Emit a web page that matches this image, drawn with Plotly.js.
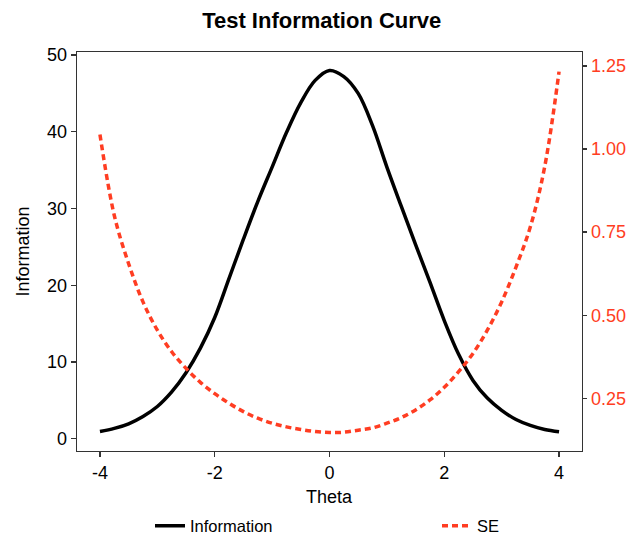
<!DOCTYPE html>
<html>
<head>
<meta charset="utf-8">
<script src="https://cdn.plot.ly/plotly-3.0.1.min.js"></script>
<style>html,body{margin:0;padding:0;background:#fff;}#chart{width:634px;height:538px;}</style>
</head>
<body>
<div id="chart"></div>
<script>
var theta = [-4, -3.75, -3.5, -3.25, -3, -2.75, -2.5, -2.25, -2, -1.75, -1.5, -1.25, -1, -0.75, -0.5, -0.25, 0,
             0.25, 0.5, 0.75, 1, 1.25, 1.5, 1.75, 2, 2.25, 2.5, 2.75, 3, 3.25, 3.5, 3.75, 4];
var information = [0.95, 1.35, 1.95, 2.9, 4.2, 6.1, 8.6, 11.8, 15.8, 20.9, 26.0, 30.9, 35.4, 39.9, 43.8, 46.7, 48.0,
                   47.2, 45.0, 40.8, 35.4, 30.3, 25.3, 20.4, 15.4, 11.0, 7.6, 5.3, 3.7, 2.5, 1.73, 1.2, 0.9];
var se = [1.044, 0.80, 0.655, 0.54, 0.455, 0.39, 0.34, 0.298, 0.264, 0.235, 0.21, 0.19, 0.175, 0.164, 0.156, 0.150, 0.147,
          0.148, 0.154, 0.161, 0.175, 0.192, 0.215, 0.245, 0.283, 0.33, 0.385, 0.455, 0.54, 0.645, 0.766, 0.947, 1.233];
var xTicks = [-4, -2, 0, 2, 4];
var yTicks = [0, 10, 20, 30, 40, 50];
var y2Ticks = [0.25, 0.50, 0.75, 1.00, 1.25];
var y2TickText = ["0.25", "0.50", "0.75", "1.00", "1.25"];
var xTitle = "Theta";

var RED = "#FF3D22";
var FONT = "Liberation Sans, Arial, Helvetica, sans-serif";
var FRAME = "#333333";

var traces = [
  {x: theta, y: information, name: "Information", type: "scatter", mode: "lines", legend: "legend",
   line: {color: "#000000", width: 3.5, shape: "spline", smoothing: 1}, yaxis: "y"},
  {x: theta, y: se, name: "SE", type: "scatter", mode: "lines", legend: "legend2",
   line: {color: RED, width: 3.5, dash: "6px,4px", shape: "spline", smoothing: 1}, yaxis: "y2"}
];

var legendBase = {orientation: "h", xref: "container", xanchor: "left",
                  y: 1 - 526/538, yref: "container", yanchor: "middle",
                  font: {family: FONT, size: 16.5, color: "#000"}, itemwidth: 30, bgcolor: "rgba(0,0,0,0)"};

var layout = {
  width: 634, height: 538,
  margin: {l: 77, r: 52, t: 52, b: 87},
  paper_bgcolor: "#ffffff", plot_bgcolor: "#ffffff",
  font: {family: FONT, size: 18, color: "#000000"},
  showlegend: true,
  title: {text: "<b>Test Information Curve</b>", font: {family: FONT, size: 22, color: "#000"},
          x: 0.4846, xref: "paper", xanchor: "center", y: 1 - 20/538, yref: "container", yanchor: "middle"},
  xaxis: {range: [-4.4, 4.4], tickvals: xTicks, ticktext: xTicks.map(String), automargin: false,
          showgrid: false, zeroline: false, showline: true, mirror: true, linecolor: FRAME, linewidth: 1.3,
          ticks: "outside", ticklen: 5, tickcolor: FRAME, tickwidth: 1.3,
          tickfont: {family: FONT, size: 18, color: "#000"}},
  yaxis: {range: [-1.6, 50.4], tickvals: yTicks, ticktext: yTicks.map(String), automargin: false,
          showgrid: false, zeroline: false, showline: true, mirror: true, linecolor: FRAME, linewidth: 1.3,
          ticks: "outside", ticklen: 5, tickcolor: FRAME, tickwidth: 1.3,
          tickfont: {family: FONT, size: 18, color: "#000"},
          title: {text: "Information", font: {family: FONT, size: 18, color: "#000"}, standoff: 12}},
  yaxis2: {overlaying: "y", side: "right", range: [0.0914, 1.292], tickvals: y2Ticks, ticktext: y2TickText,
           automargin: false,
           showgrid: false, zeroline: false, showline: true, linecolor: FRAME, linewidth: 1.3,
           ticks: "outside", ticklen: 4, tickcolor: FRAME, tickwidth: 1.3,
           tickfont: {family: FONT, size: 18, color: RED}},
  annotations: [{text: xTitle, xref: "paper", x: 0.5, yref: "paper", y: -46/399, xanchor: "center", yanchor: "middle",
                 showarrow: false, font: {family: FONT, size: 18, color: "#000"}}],
  legend: Object.assign({}, legendBase, {x: 150/634}),
  legend2: Object.assign({}, legendBase, {x: 437/634})
};

Plotly.newPlot("chart", traces, layout, {displayModeBar: false, staticPlot: true});
</script>
</body>
</html>
